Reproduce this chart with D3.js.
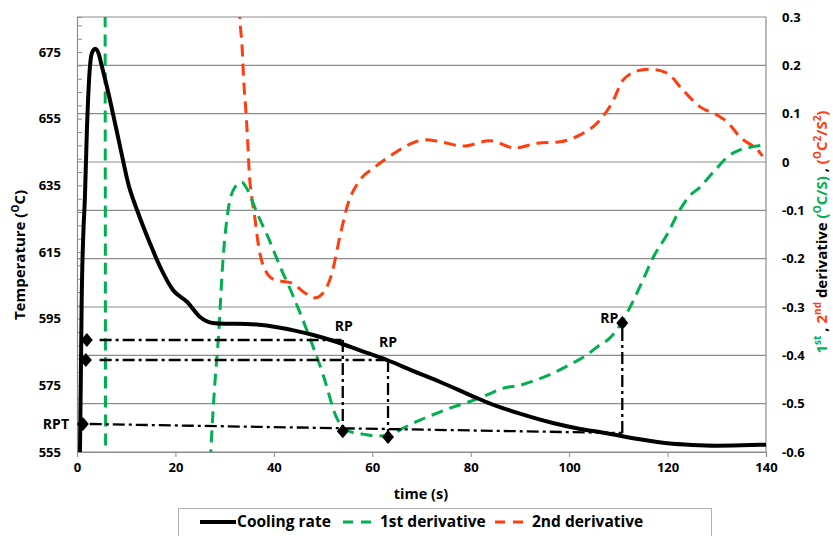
<!DOCTYPE html>
<html>
<head>
<meta charset="utf-8">
<script src="https://cdn.jsdelivr.net/npm/d3@7"></script>
<style>
body { margin: 0; background: #fff; }
text { font-family: "Open Sans", Lato, sans-serif; font-weight: bold; }
</style>
</head>
<body>
<svg id="chart" width="833" height="536"></svg>
<script>
// cooling curve (time s, temperature C)
var coolTime = [0.6, 0.8, 0.95, 1.3, 1.6, 2.0, 2.6, 3.0, 3.7, 4.4, 5.0, 5.9, 6.7, 8.7, 10.5, 12.2, 14.8, 16.9, 19.5, 22.4, 25.0, 27.6, 30.0, 34.5, 41.3, 44.0, 48.0, 52.8, 57.5, 63.0, 68.0, 73.8, 80.0, 83.3, 90.0, 96.7, 102.0, 107.0, 114.4, 120.0, 125.0, 130.0, 135.0, 140.0];
var coolTemp = [555, 580, 600, 621, 631, 651, 670, 674.5, 676, 674.5, 671, 665.7, 660.6, 647, 635, 627.6, 617.7, 610.5, 603.6, 600, 595.5, 593.7, 593.5, 593.4, 592.3, 591.5, 590.1, 588, 585.5, 582.6, 579.5, 576, 572, 569.9, 566.5, 563.7, 562, 560.8, 558.8, 557.6, 557.1, 556.9, 557.0, 557.2];

// 1st derivative (C/s)
var d1Time = [5.7, 5.85, 26.8, 27.2, 28.0, 28.7, 29.7, 30.7, 32.1, 33.5, 34.5, 36.6, 38.8, 41.3, 43.7, 46.7, 50.0, 52.8, 55.5, 58.1, 61.0, 63.5, 66.0, 69.7, 73.8, 76.4, 80.0, 83.3, 86.6, 90.0, 93.0, 96.7, 100.0, 103.6, 106.0, 108.3, 110.5, 112.4, 115.0, 117.1, 119.9, 122.5, 124.5, 126.6, 128.5, 130.1, 132.1, 134.7, 137.0, 140.0];
var d1Val = [0.5, -0.7, -0.7, -0.6, -0.46, -0.368, -0.197, -0.1, -0.052, -0.042, -0.055, -0.106, -0.155, -0.217, -0.272, -0.348, -0.44, -0.53, -0.558, -0.563, -0.567, -0.566, -0.552, -0.534, -0.517, -0.507, -0.495, -0.482, -0.468, -0.462, -0.452, -0.437, -0.42, -0.399, -0.38, -0.364, -0.335, -0.3, -0.244, -0.197, -0.15, -0.099, -0.07, -0.052, -0.03, -0.012, 0.01, 0.025, 0.031, 0.036];

// 2nd derivative (C/s2)
var d2Time = [32.9, 33.1, 33.5, 33.9, 34.3, 34.7, 35.0, 35.5, 36.2, 36.8, 38.2, 40.2, 43.6, 46.3, 48.4, 50.0, 51.8, 53.4, 55.1, 57.1, 60.6, 64.6, 68.1, 70.7, 73.8, 78.4, 83.9, 89.0, 93.5, 98.2, 102.2, 106.3, 108.7, 111.0, 114.4, 116.4, 119.9, 123.1, 126.6, 130.1, 132.1, 134.7, 138.8, 139.3];
var d2Val = [0.4, 0.3, 0.246, 0.164, 0.108, 0.039, -0.023, -0.072, -0.12, -0.168, -0.223, -0.244, -0.25, -0.271, -0.281, -0.271, -0.23, -0.155, -0.085, -0.043, -0.01, 0.019, 0.039, 0.046, 0.042, 0.033, 0.044, 0.029, 0.039, 0.042, 0.056, 0.087, 0.122, 0.17, 0.19, 0.192, 0.184, 0.149, 0.114, 0.097, 0.083, 0.052, 0.019, 0.012];

// axis ticks
var timeTicks = [0, 20, 40, 60, 80, 100, 120, 140];
var tempTicks = [555, 575, 595, 615, 635, 655, 675];
var derivTicks = [0.3, 0.2, 0.1, 0, -0.1, -0.2, -0.3, -0.4, -0.5, -0.6];

// reference points (RP) annotations
var rpLabels = ["RP", "RP", "RP"];
var rpLeftTime = [2.0, 1.8, 1.2];     // diamonds on the temperature axis
var rpStartTime = [4.6, 4.6, 2.6];    // where the dash-dot line starts
var rpTemp = [588.6, 582.6, 563.4];   // temperature level of horizontal line
var rpEndTemp = [588.6, 582.6, 560.7];
var rpTime = [54.0, 63.2, 110.8];     // vertical drop time
var rpDeriv = [-0.557, -0.569, -0.333];

var legendNames = ["Cooling rate", "1st derivative", "2nd derivative"];
var green = "#00b050", red = "#ff3d0f";

var svg = d3.select("#chart");
var x = d3.scaleLinear().domain([0, 140]).range([77, 766]);
var yT = d3.scaleLinear().domain([555, 685.5]).range([452, 17]);
var yD = d3.scaleLinear().domain([-0.6, 0.3]).range([452, 17]);

svg.append("clipPath").attr("id", "plotclip")
  .append("rect").attr("x", 77).attr("y", 17).attr("width", 689).attr("height", 435);

// gridlines follow the right axis
svg.append("g").selectAll("line").data(derivTicks).enter().append("line")
  .attr("x1", x(0)).attr("x2", x(140))
  .attr("y1", function(d) { return yD(d); }).attr("y2", function(d) { return yD(d); })
  .attr("stroke", "#8c8c8c").attr("stroke-width", 1.2);

// frame right side
svg.append("line").attr("x1", x(140)).attr("x2", x(140)).attr("y1", yD(0.3)).attr("y2", yD(-0.6))
  .attr("stroke", "#8c8c8c").attr("stroke-width", 1.2);

// x axis
var xAxis = svg.append("g").attr("transform", "translate(0," + yD(-0.6) + ")")
  .call(d3.axisBottom(x).tickValues(timeTicks).tickSize(5).tickPadding(6).tickFormat(d3.format("d")));
xAxis.select(".domain").attr("stroke", "#8c8c8c").attr("stroke-width", 1.2);
xAxis.selectAll(".tick line").attr("stroke", "#8c8c8c");
xAxis.selectAll("text").attr("font-size", 13).attr("fill", "#000");

// left axis, minor ticks every 4 degrees
var minorTicks = d3.range(555, 686, 4);
var yAxis = svg.append("g").attr("transform", "translate(" + x(0) + ",0)")
  .call(d3.axisLeft(yT).tickValues(minorTicks).tickSize(-5).tickFormat(""));
yAxis.select(".domain").attr("stroke", "#8c8c8c").attr("stroke-width", 1.2);
yAxis.selectAll(".tick line").attr("stroke", "#8c8c8c");

svg.append("g").selectAll("text").data(tempTicks).enter().append("text")
  .attr("x", 61).attr("y", function(d) { return yT(d); })
  .attr("dy", "0.35em").attr("text-anchor", "end").attr("font-size", 13)
  .text(function(d) { return d; });

// right axis labels
svg.append("g").selectAll("text").data(derivTicks).enter().append("text")
  .attr("x", 782).attr("y", function(d) { return yD(d); })
  .attr("dy", "0.35em").attr("font-size", 13)
  .text(function(d) { return d3.format("")(d).replace("\u2212", "-"); });

// axis titles
svg.append("text").attr("x", 421).attr("y", 499).attr("text-anchor", "middle")
  .attr("font-size", 14.5).text("time (s)");

var lt = svg.append("text").attr("transform", "translate(25,255) rotate(-90)")
  .attr("text-anchor", "middle").attr("font-size", 15);
lt.append("tspan").text("Temperature (");
lt.append("tspan").attr("font-size", 10).attr("dy", -6).text("O");
lt.append("tspan").attr("dy", 6).text("C)");

var rt = svg.append("text").attr("transform", "translate(827,232) rotate(-90)")
  .attr("text-anchor", "middle").attr("font-size", 15);
var parts = [
  ["1", green, 0], ["st", green, 1], [" , ", "#000", 0], ["2", red, 0], ["nd", red, 1],
  [" derivative ", "#000", 0], ["(", green, 0], ["O", green, 1], ["C/S)", green, 0],
  [" , ", "#000", 0], ["(", red, 0], ["O", red, 1], ["C", red, 0], ["2", red, 1],
  ["/S", red, 0], ["2", red, 1], [")", red, 0]
];
var prevSup = 0;
parts.forEach(function(p) {
  var dy = (p[2] - prevSup) * -6;
  rt.append("tspan").attr("fill", p[1]).attr("dy", dy)
    .attr("font-size", p[2] ? 10 : 15).text(p[0]);
  prevSup = p[2];
});

// curves
var plot = svg.append("g").attr("clip-path", "url(#plotclip)");

var coolLine = d3.line().x(function(d, i) { return x(coolTime[i]); })
  .y(function(d) { return yT(d); }).curve(d3.curveMonotoneX);
var d1Line = d3.line().x(function(d, i) { return x(d1Time[i]); })
  .y(function(d) { return yD(d); }).curve(d3.curveMonotoneX);
var d2Line = d3.line().x(function(d, i) { return x(d2Time[i]); })
  .y(function(d) { return yD(d); }).curve(d3.curveMonotoneX);

plot.append("path").attr("d", d2Line(d2Val)).attr("fill", "none")
  .attr("stroke", red).attr("stroke-width", 3).attr("stroke-dasharray", "12,7");
plot.append("path").attr("d", d1Line(d1Val)).attr("fill", "none")
  .attr("stroke", green).attr("stroke-width", 3).attr("stroke-dasharray", "12,7");

// dash-dot guide lines
var guides = svg.append("g").attr("fill", "none").attr("stroke", "#000")
  .attr("stroke-width", 2.3).attr("stroke-dasharray", "12,4,3,4");
rpTime.forEach(function(t, i) {
  var p = d3.path();
  p.moveTo(x(rpStartTime[i]), yT(rpTemp[i]));
  p.lineTo(x(t), yT(rpEndTemp[i]));
  guides.append("path").attr("d", p.toString());
  var q = d3.path();
  q.moveTo(x(t), yT(rpEndTemp[i]));
  q.lineTo(x(t), yD(rpDeriv[i]));
  guides.append("path").attr("d", q.toString());
});

plot.append("path").attr("d", coolLine(coolTemp)).attr("fill", "none")
  .attr("stroke", "#000").attr("stroke-width", 4).attr("stroke-linejoin", "round");

// diamonds
function diamond(cx, cy) {
  var p = d3.path();
  p.moveTo(cx, cy - 7); p.lineTo(cx + 6, cy); p.lineTo(cx, cy + 7); p.lineTo(cx - 6, cy); p.closePath();
  return p.toString();
}
var marks = svg.append("g").attr("fill", "#000");
rpTime.forEach(function(t, i) {
  marks.append("path").attr("d", diamond(x(rpLeftTime[i]), yT(rpTemp[i])));
  marks.append("path").attr("d", diamond(x(t), yD(rpDeriv[i])));
});

// RP labels
svg.append("text").attr("x", x(rpTime[0]) + 1).attr("y", yT(rpTemp[0]) - 9)
  .attr("text-anchor", "middle").attr("font-size", 14).text(rpLabels[0]);
svg.append("text").attr("x", x(rpTime[1])).attr("y", yT(rpTemp[1]) - 13)
  .attr("text-anchor", "middle").attr("font-size", 14).text(rpLabels[1]);
svg.append("text").attr("x", x(rpTime[2]) - 4).attr("y", yD(rpDeriv[2]) + 0)
  .attr("text-anchor", "end").attr("font-size", 14).text(rpLabels[2]);
svg.append("text").attr("x", 69).attr("y", yT(rpTemp[2])).attr("dy", "0.35em")
  .attr("text-anchor", "end").attr("font-size", 14).text("RPT");

// legend
var lg = svg.append("g");
lg.append("rect").attr("x", 178.5).attr("y", 508.5).attr("width", 533).attr("height", 40)
  .attr("fill", "#fff").attr("stroke", "#b0b0b0");
var legX = [200, 343, 495];
var legStroke = ["#000", green, red];
legendNames.forEach(function(n, i) {
  lg.append("line").attr("x1", legX[i]).attr("x2", legX[i] + 36).attr("y1", 522).attr("y2", 522)
    .attr("stroke", legStroke[i]).attr("stroke-width", i ? 3 : 4)
    .attr("stroke-dasharray", i ? "10,8,10" : null);
  lg.append("text").attr("x", legX[i] + 37).attr("y", 522).attr("dy", "0.35em")
    .attr("font-size", 15.5).text(n);
});
</script>
</body>
</html>
